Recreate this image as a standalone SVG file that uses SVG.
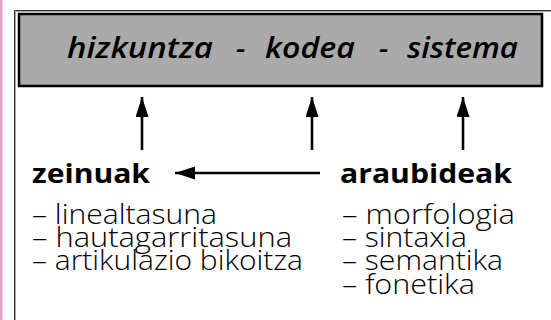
<svg xmlns="http://www.w3.org/2000/svg" width="551" height="320" viewBox="0 0 551 320">
<style>
.t{font-family:"Open Sans","Noto Sans",sans-serif;fill:#000}
.title{font-size:29px;font-style:italic;font-weight:600}
.head{font-size:27px;font-weight:700}
.item{font-size:27px;font-weight:300}
.conn{stroke:#000;stroke-width:2.6;fill:none}
</style>
<defs>
<marker id="ah" markerUnits="userSpaceOnUse" markerWidth="21" markerHeight="14" refX="20" refY="6.5" orient="auto">
<path d="M0,0 L20,6.5 L0,13 Z" fill="#000"/>
</marker>
</defs>
<rect x="0" y="0" width="551" height="320" fill="#fff"/>
<rect x="0" y="0" width="2.5" height="320" fill="#e8a3c4"/>
<g id="frame">
<path d="M14.5,320 V10.5 H551" fill="none" stroke="#333" stroke-width="1"/>
<path d="M15.5,320 V11.5 H551" fill="none" stroke="#aaa" stroke-width="1"/>
</g>
<g id="system">
<rect x="19" y="14" width="523" height="72" fill="#aaaaaa" stroke="#000" stroke-width="2.5"/>
<text class="t title" x="67" y="58" textLength="146" lengthAdjust="spacingAndGlyphs">hizkuntza</text>
<text class="t title" x="236" y="58">-</text>
<text class="t title" x="265" y="58" textLength="90" lengthAdjust="spacingAndGlyphs">kodea</text>
<text class="t title" x="379" y="58">-</text>
<text class="t title" x="407" y="58" textLength="111" lengthAdjust="spacingAndGlyphs">sistema</text>
</g>
<g id="zeinuak">
<text class="t head" x="32" y="183" textLength="118" lengthAdjust="spacingAndGlyphs">zeinuak</text>
<text class="t item" x="32" y="224" textLength="185" lengthAdjust="spacingAndGlyphs">– linealtasuna</text>
<text class="t item" x="32" y="247" textLength="260" lengthAdjust="spacingAndGlyphs">– hautagarritasuna</text>
<text class="t item" x="32" y="270" textLength="271" lengthAdjust="spacingAndGlyphs">– artikulazio bikoitza</text>
</g>
<g id="araubideak">
<text class="t head" x="340" y="183" textLength="172" lengthAdjust="spacingAndGlyphs">araubideak</text>
<text class="t item" x="342" y="224" textLength="173" lengthAdjust="spacingAndGlyphs">– morfologia</text>
<text class="t item" x="342" y="247" textLength="125" lengthAdjust="spacingAndGlyphs">– sintaxia</text>
<text class="t item" x="342" y="270" textLength="161" lengthAdjust="spacingAndGlyphs">– semantika</text>
<text class="t item" x="342" y="294" textLength="133" lengthAdjust="spacingAndGlyphs">– fonetika</text>
</g>
<g id="connectors">
<line class="conn" x1="142" y1="150" x2="142" y2="97" marker-end="url(#ah)"/>
<line class="conn" x1="312" y1="150" x2="312" y2="97" marker-end="url(#ah)"/>
<line class="conn" x1="463" y1="150" x2="463" y2="97" marker-end="url(#ah)"/>
<line class="conn" x1="320" y1="173" x2="175" y2="173" marker-end="url(#ah)"/>
</g>
</svg>
